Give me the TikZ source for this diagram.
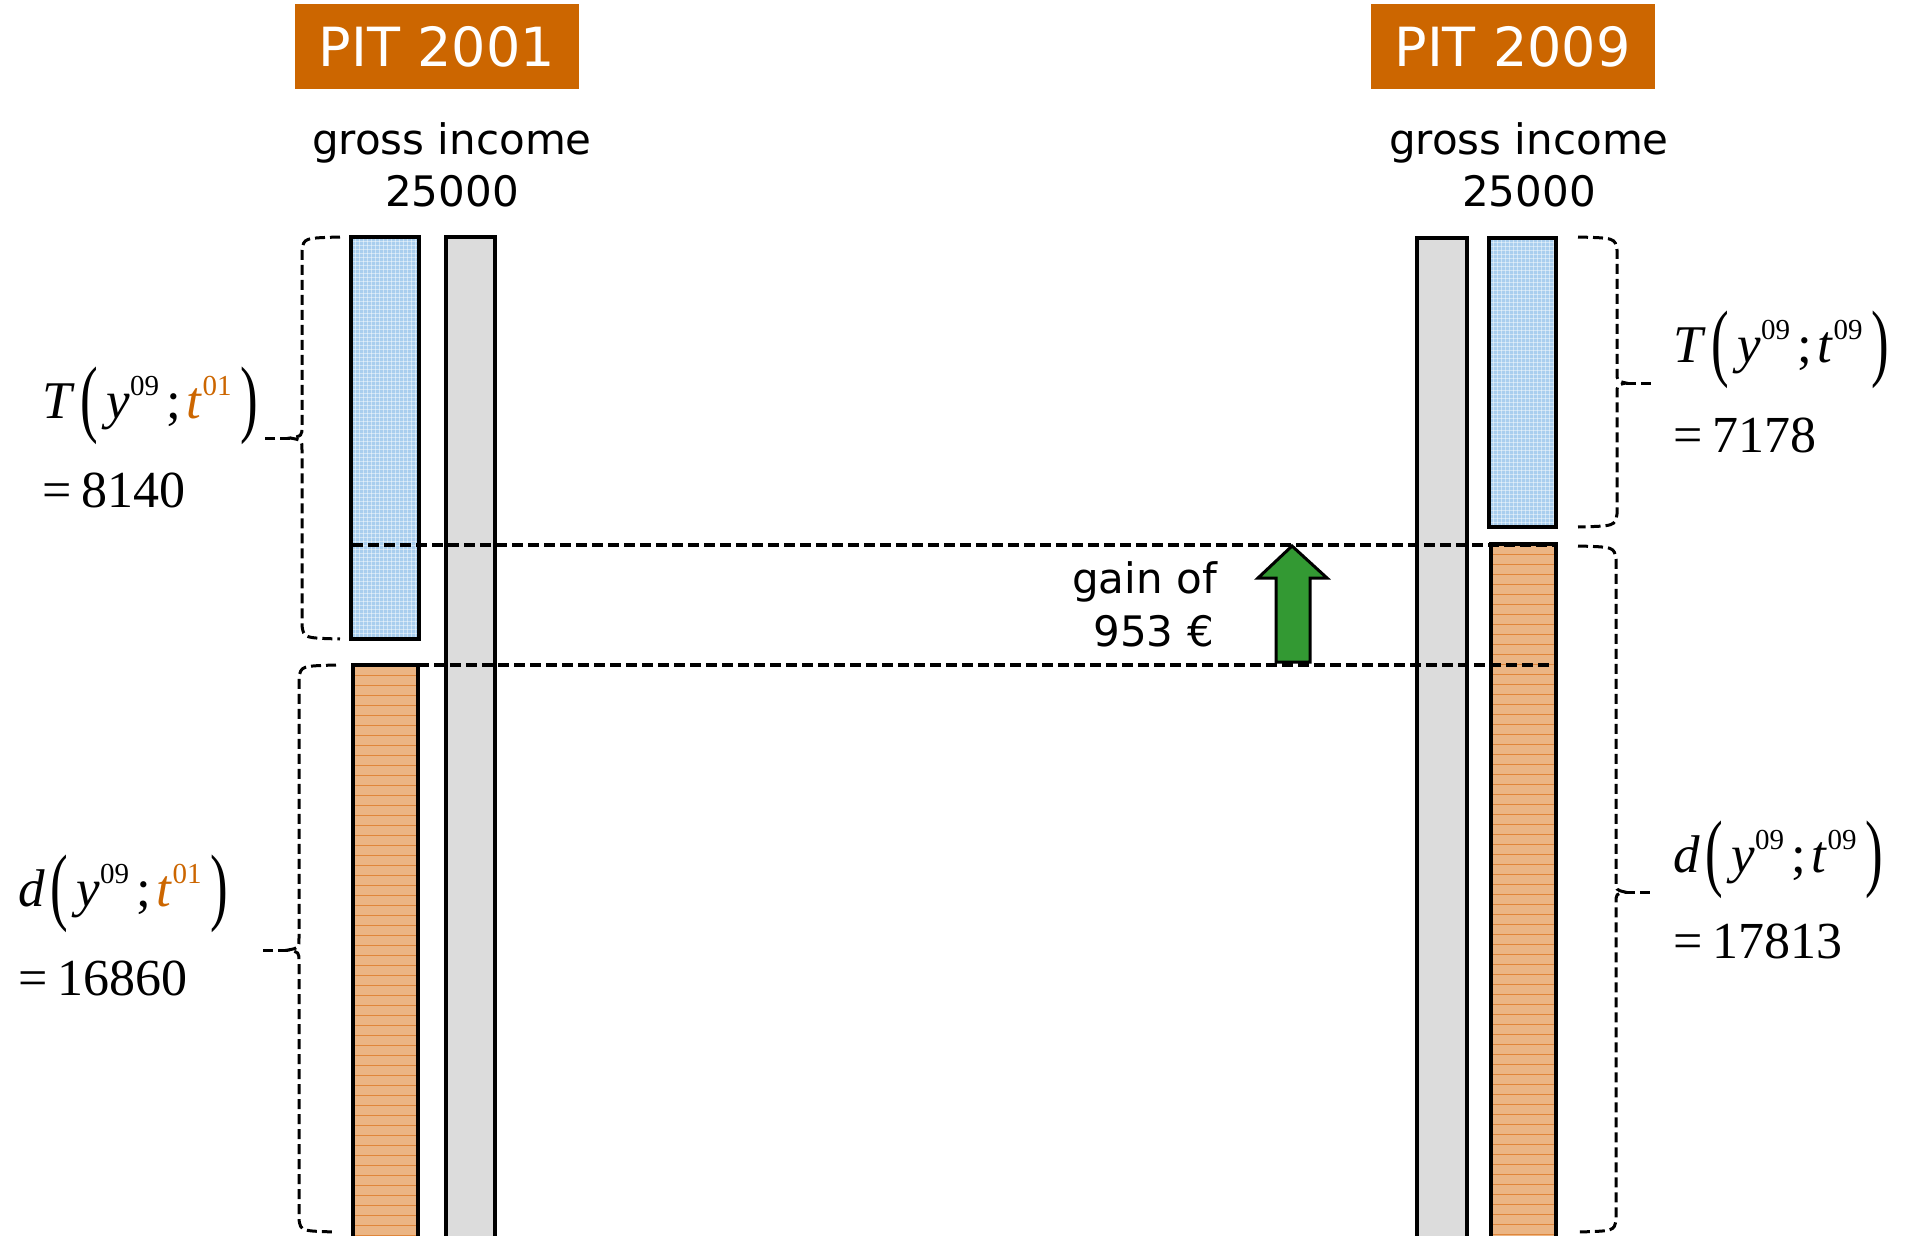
\documentclass[tikz,border=0pt]{standalone}
\usepackage{fontspec}
\usepackage{graphicx}
\setmainfont{DejaVu Sans}
\newfontfamily\tms{Liberation Serif}
\definecolor{pitOrange}{HTML}{CC6600}
\definecolor{barGrey}{HTML}{DCDCDC}
\definecolor{barBlue}{HTML}{A9CEEE}
\definecolor{barOrange}{HTML}{EBB584}
\definecolor{barLine}{HTML}{E0863A}
\definecolor{gainGreen}{HTML}{339933}
\newcommand{\supr}[1]{\raisebox{23pt}{\fontsize{29}{29}\selectfont #1}}
\newcommand{\bigpar}[1]{\raisebox{-8pt}{\scalebox{1}[1.62]{\fontsize{53}{53}\selectfont #1}}}
\newcommand{\fnlabel}[3]{{\tms\fontsize{53}{60}\selectfont\textit{#1}\hspace{6pt}\bigpar{(}\hspace{8pt}\textit{y}\supr{09}\hspace{7pt};\hspace{6pt}{\color{#2}\textit{t}\supr{#3}}\hspace{9pt}\bigpar{)}}}
\newcommand{\vallabel}[1]{{\tms\fontsize{52}{60}\selectfont =\hspace{10pt}#1}}
\tikzset{
  bar/.style={draw=black, line width=3.4pt, anchor=north west, inner sep=0pt, outer sep=0pt},
  greybar/.style={bar, fill=barGrey},
  bluebar/.style={bar, fill=barBlue, path picture={
      \foreach \k in {1,...,110}{
        \draw[white, opacity=0.45, line width=1pt]
          ([yshift=-\k*4pt]path picture bounding box.north west) --
          ([yshift=-\k*4pt]path picture bounding box.north east);}
      \foreach \k in {1,...,20}{
        \draw[white, opacity=0.45, line width=1pt]
          ([xshift=\k*4pt]path picture bounding box.north west) --
          ([xshift=\k*4pt]path picture bounding box.south west);}}},
  orangebar/.style={bar, fill=barOrange, path picture={
      \foreach \k in {1,...,90}{
        \draw[barLine, line width=0.9pt]
          ([yshift=-\k*10pt]path picture bounding box.north west) --
          ([yshift=-\k*10pt]path picture bounding box.north east);}}},
  pitbox/.style={fill=pitOrange, text=white, minimum width=284pt, minimum height=85pt,
      inner sep=0pt, font=\fontsize{54}{60}\selectfont},
  headtext/.style={anchor=base, inner sep=0pt, font=\fontsize{42}{52}\selectfont},
  mlabel/.style={anchor=base west, inner sep=0pt},
  bracestyle/.style={draw=black, line width=3pt, dash pattern=on 10pt off 5pt},
  guide/.style={draw=black, line width=3.2pt, dash pattern=on 11pt off 5pt},
}
\begin{document}
\begin{tikzpicture}[x=1pt,y=-1pt]
\clip (0,0) rectangle (1907,1236);
\fill[white] (0,0) rectangle (1907,1236);

% headers
\node[pitbox] (pit01) at (437,46.5) {PIT 2001};
\node[pitbox] (pit09) at (1512.5,46.5) {PIT 2009};
\node[headtext] (gi01) at (452,155) {gross income};
\node[headtext] (gv01) at (452,207) {25000};
\node[headtext] (gi09) at (1529,155) {gross income};
\node[headtext] (gv09) at (1529,207) {25000};

% bars
\node[greybar, minimum width=49pt, minimum height=1100pt] (grey01) at (446,237) {};
\node[bluebar, minimum width=68pt, minimum height=402pt] (tax01) at (351,237) {};
\node[orangebar, minimum width=65pt, minimum height=700pt] (net01) at (353,665) {};
\node[greybar, minimum width=50pt, minimum height=1100pt] (grey09) at (1417,238) {};
\node[bluebar, minimum width=67pt, minimum height=289pt] (tax09) at (1489,238) {};
\node[orangebar, minimum width=65pt, minimum height=800pt] (net09) at (1491,544) {};

% guide lines
\coordinate (g1a) at (352,545);
\coordinate (g2a) at (net01.north east);
\draw[guide] (g1a) -- (g1a -| net09.north east);
\draw[guide] (g2a) -- (g2a -| net09.north east);

% gain arrow
\draw[black, line width=3pt, fill=gainGreen, line join=miter]
  (1276,662) -- (1276,578) -- (1258,578) -- (1292,546) -- (1327,578) -- (1310,578) -- (1310,662) -- cycle;
\node[anchor=base east, inner sep=0pt, font=\fontsize{42}{52}\selectfont] (gain1) at (1217,593) {gain of};
\node[anchor=base east, inner sep=0pt, font=\fontsize{42}{52}\selectfont] (gain2) at (1214,646) {953 €};

% labels
\node[mlabel] (T01) at (42,418) {\fnlabel{T}{pitOrange}{01}};
\node[mlabel] (T01v) at (42,507) {\vallabel{8140}};
\node[mlabel] (d01) at (18,906) {\fnlabel{d}{pitOrange}{01}};
\node[mlabel] (d01v) at (18,995) {\vallabel{16860}};
\node[mlabel] (T09) at (1673,362) {\fnlabel{T}{black}{09}};
\node[mlabel] (T09v) at (1673,452) {\vallabel{7178}};
\node[mlabel] (d09) at (1673,872) {\fnlabel{d}{black}{09}};
\node[mlabel] (d09v) at (1673,958) {\vallabel{17813}};

% braces left
\coordinate (cT01) at (290,438);
\draw[bracestyle] (340,237) .. controls (304,238) .. (302,250) -- (302,426)
   .. controls (302,436) .. (cT01) .. controls (302,440) .. (302,450) -- (302,626)
   .. controls (304,638) .. (340,639);
\draw[bracestyle] (cT01) -- (263,438);
\coordinate (cd01) at (288,950);
\draw[bracestyle] (336,665) .. controls (301,666) .. (299,678) -- (299,938)
   .. controls (299,948) .. (cd01) .. controls (299,952) .. (299,962) -- (299,1220)
   .. controls (301,1231) .. (336,1232);
\draw[bracestyle] (cd01) -- (260,950);
% braces right
\coordinate (cT09) at (1626,383);
\draw[bracestyle] (1578,237) .. controls (1615,238) .. (1617,250) -- (1617,372)
   .. controls (1617,381) .. (cT09) .. controls (1617,385) .. (1617,394) -- (1617,514)
   .. controls (1615,526) .. (1578,527);
\draw[bracestyle] (cT09) -- (1652,383);
\coordinate (cd09) at (1625,892);
\draw[bracestyle] (1578,546) .. controls (1614,547) .. (1616,559) -- (1616,881)
   .. controls (1616,890) .. (cd09) .. controls (1616,894) .. (1616,903) -- (1616,1220)
   .. controls (1614,1231) .. (1578,1232);
\draw[bracestyle] (cd09) -- (1652,892);
\end{tikzpicture}
\end{document}
